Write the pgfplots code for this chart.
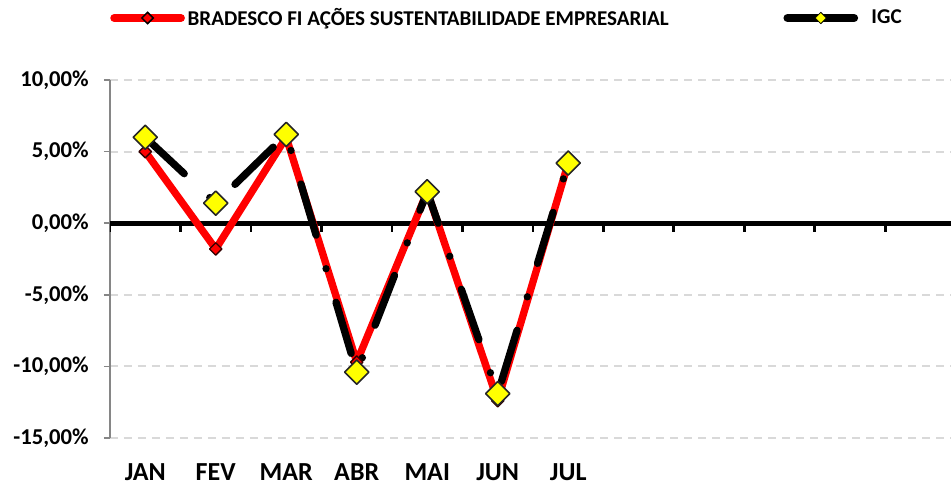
\documentclass[border=0pt]{standalone}
\usepackage{pgfplots}
\pgfplotsset{compat=1.18}
\usepackage{fontspec}
\setmainfont{Carlito}

\definecolor{gridgray}{HTML}{D9D9D9}
\definecolor{axisgray}{HTML}{868686}
\definecolor{igcyellow}{HTML}{FFFF00}

\begin{document}
\begin{tikzpicture}
\begin{axis}[
    scale only axis,
    width=630.75pt, height=268.5pt,
    xmin=-0.5, xmax=11.43,
    ymin=-15, ymax=10,
    axis y line*=left, axis x line*=bottom,
    x axis line style={draw=none},
    y axis line style={draw=axisgray, line width=1.1pt},
    xtick={0,...,6},
    xticklabels={JAN,FEV,MAR,ABR,MAI,JUN,JUL},
    xtick style={draw=none},
    xticklabel style={font=\bfseries\fontsize{19.5}{20}\selectfont, yshift=-11.5pt},
    ytick={-15,-10,-5,0,5,10},
    yticklabels={{-15,00\%},{-10,00\%},{-5,00\%},{0,00\%},{5,00\%},{10,00\%}},
    ytick style={draw=axisgray, line width=1.1pt},
    tick align=outside,
    major tick length=4.5pt,
    yticklabel style={font=\bfseries\fontsize{17}{19}\selectfont, xshift=-8pt},
    ymajorgrids,
    major grid style={draw=gridgray, line width=1.5pt, dash pattern=on 6pt off 4.5pt},
    legend columns=2,
    legend style={draw=none, fill=none, at={(axis description cs:0,1)}, anchor=west,
        yshift=46.5pt, inner sep=0pt,
        font=\bfseries\fontsize{15.8}{17}\selectfont,
        /tikz/every even column/.append style={column sep=84pt}},
    legend cell align=left,
    legend image code/.code={
        \draw[#1, line cap=round, mark repeat=2, mark phase=2]
            plot coordinates {(0pt,0pt) (25pt,0pt) (50pt,0pt)};},
]
\coordinate (ll) at (rel axis cs:0,0);
\coordinate (ur) at (rel axis cs:1,1);

% zero line with its category ticks
\draw[black, line width=3.8pt] (axis cs:-0.5,0) -- (axis cs:11.43,0);
\pgfplotsinvokeforeach{-0.5,0.5,...,10.5}{
    \draw[black, line width=2.2pt] (axis cs:#1,0) -- ([yshift=-6.5pt]axis cs:#1,0);
}

\addlegendimage{red, line width=6pt,
    mark=square*, mark options={rotate=45, fill=red, draw=black, line width=1.1pt, mark size=3pt}}
\addlegendimage{black, line width=6pt,
    mark=square*, mark options={rotate=45, fill=igcyellow, draw=black, line width=0.6pt, mark size=3pt}}

% BRADESCO FI ACOES SUSTENTABILIDADE EMPRESARIAL
\addplot[forget plot, red, line width=5.5pt, line join=round, line cap=round,
    mark=square*, mark options={solid, rotate=45, fill=red, draw=black!80!red, line width=1pt, mark size=3.3pt}]
coordinates {
    (0,5.0) (1,-1.8) (2,6.0) (3,-9.7) (4,2.2) (5,-12.4) (6,4.2)
};

% IGC
\addplot[forget plot, black, line width=5.5pt, line join=round, line cap=round,
    dash pattern=on 40pt off 26.25pt on 0pt off 26.25pt,
    mark=square*, mark options={solid, rotate=45, fill=igcyellow, draw=black!85, line width=1.2pt, mark size=6.4pt}]
coordinates {
    (0,6.0) (1,1.4) (2,6.2) (3,-10.4) (4,2.2) (5,-11.9) (6,4.2)
};

\legend{BRADESCO FI AÇÕES SUSTENTABILIDADE EMPRESARIAL, \hspace{8pt}IGC}
\end{axis}
\pgfresetboundingbox
\path ([shift={(-82.5pt,-36pt)}]ll) rectangle ([shift={(0pt,60pt)}]ur);
\end{tikzpicture}
\end{document}
